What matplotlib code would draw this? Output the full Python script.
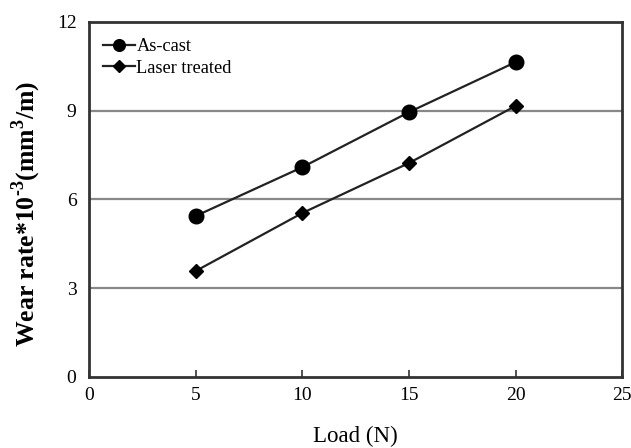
import matplotlib
matplotlib.use("Agg")
import matplotlib.pyplot as plt

load = [5, 10, 15, 20]
as_cast = [5.44, 7.09, 8.95, 10.64]
laser = [3.58, 5.54, 7.23, 9.16]
xticks = [0, 5, 10, 15, 20, 25]
yticks = [0, 3, 6, 9, 12]

plt.rcParams['font.family'] = ['Liberation Serif', 'DejaVu Serif']
plt.rcParams['mathtext.fontset'] = 'custom'
plt.rcParams['mathtext.rm'] = 'Liberation Serif'
plt.rcParams['mathtext.bf'] = 'Liberation Serif:bold'
plt.rcParams['axes.unicode_minus'] = False

fig = plt.figure(figsize=(6.31, 4.48), dpi=100)
ax = fig.add_axes([0.141, 0.1585, 0.845, 0.7925])

for y in [3, 6, 9]:
    ax.axhline(y, color='#888888', lw=1.6, zorder=1)

ax.plot(load, as_cast, color='#222222', lw=1.6, marker='o', ms=10.5,
        mfc='black', mec='black', label='As-cast', zorder=3)
ax.plot(load, laser, color='#222222', lw=1.6, marker='D', ms=7.5,
        mfc='black', mec='black', label='Laser treated', zorder=3)

ax.set_xlim(0, 25)
ax.set_ylim(0, 12)
ax.set_xticks(xticks)
ax.set_yticks(yticks)
ax.tick_params(axis='x', direction='in', length=5, width=1.2, labelsize=14, pad=7, color='#333333')
ax.tick_params(axis='y', direction='in', length=0, labelsize=14, pad=9)
for s in ax.spines.values():
    s.set_linewidth(2)
    s.set_color('#333333')

ax.set_xlabel('Load (N)', fontsize=16.5, labelpad=16)
ax.set_ylabel('Wear rate*10$^{\\mathbf{\u2010 3}}$(mm$^{\\mathbf{3}}$/m)', fontsize=18.5,
              fontweight='bold')
ax.yaxis.set_label_coords(-0.086, 0.459)

leg = ax.legend(loc='upper left', bbox_to_anchor=(0.027, 0.954), frameon=False, fontsize=13.2,
                handlelength=1.7, handletextpad=0.1, labelspacing=0.25, borderpad=0,
                borderaxespad=0, markerscale=0.8)

fig.savefig('out.png', dpi=100)
